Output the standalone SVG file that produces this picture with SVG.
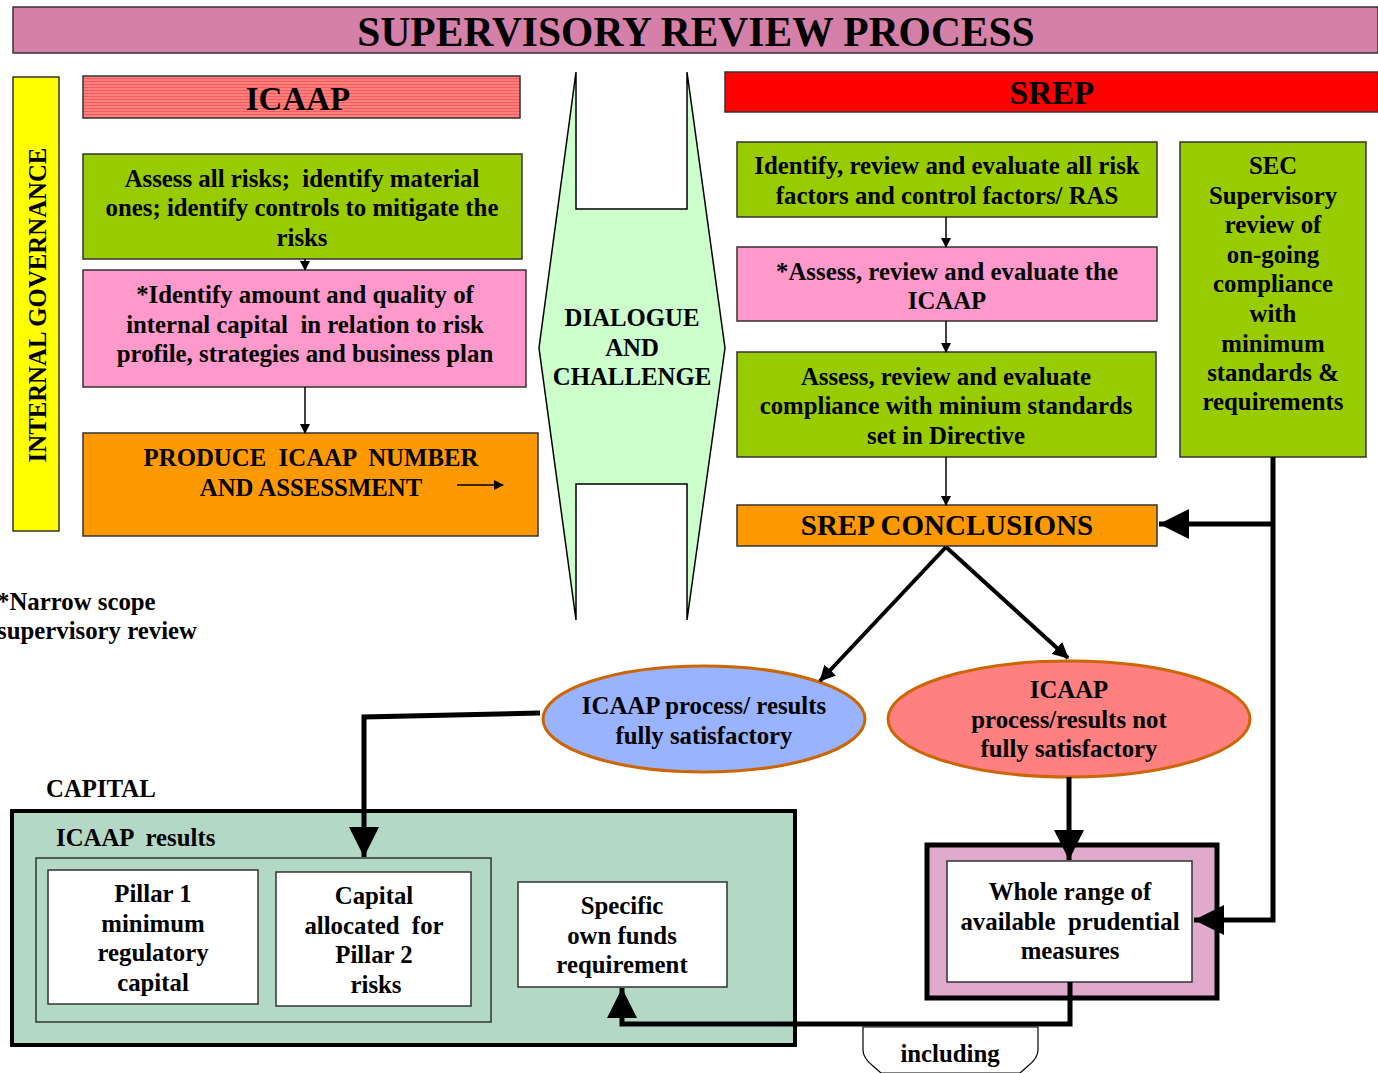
<svg xmlns="http://www.w3.org/2000/svg" width="1378" height="1073" viewBox="0 0 1378 1073" xml:space="preserve">
<style>
.t{font-family:"Liberation Serif","Times New Roman",serif;font-weight:bold;fill:#000;text-anchor:middle;font-size:24.8px;white-space:pre}
.l{text-anchor:start}
.b{stroke:#333;stroke-width:1.5}
.c{fill:none;stroke:#000;stroke-width:5}
.cn{fill:none;stroke:#000;stroke-width:4}
.cs{fill:none;stroke:#000;stroke-width:1.5}
</style>
<defs>
<pattern id="stripes" width="6" height="3" patternUnits="userSpaceOnUse">
<rect width="6" height="3" fill="#FF8080"/>
<rect width="6" height="1" fill="#FF5A5A"/>
</pattern>
<marker id="as" markerWidth="10" markerHeight="10" refX="9" refY="5" orient="auto" markerUnits="userSpaceOnUse">
<path d="M0,0 L10,5 L0,10 Z" fill="#000"/>
</marker>
<marker id="am" markerWidth="16" markerHeight="16" refX="15" refY="8" orient="auto" markerUnits="userSpaceOnUse">
<path d="M0,0 L16,8 L0,16 Z" fill="#000"/>
</marker>
<marker id="ab" markerWidth="32" markerHeight="32" refX="30" refY="16" orient="auto" markerUnits="userSpaceOnUse">
<path d="M0,1 L30,16 L0,31 Z" fill="#000"/>
</marker>
</defs>

<g id="title">
<rect x="13" y="7" width="1365" height="46" fill="#D580A8" class="b"/>
<text class="t" x="696" y="46" style="font-size:41.5px">SUPERVISORY REVIEW PROCESS</text>
</g>

<g id="internal-governance">
<rect x="13" y="77" width="46" height="454" fill="#FFFF00" class="b"/>
<text class="t" transform="translate(46,305) rotate(-90)">INTERNAL GOVERNANCE</text>
</g>

<g id="icaap-header">
<rect x="83" y="76" width="437" height="42" fill="url(#stripes)" class="b"/>
<text class="t" x="298" y="110" style="font-size:33px">ICAAP</text>
</g>

<g id="assess-risks">
<rect x="83" y="154" width="439" height="105" fill="#99CC00" class="b"/>
<text class="t" x="302" y="187">Assess all risks;  identify material</text>
<text class="t" x="302" y="216">ones; identify controls to mitigate the</text>
<text class="t" x="302" y="246">risks</text>
</g>

<g id="identify-capital">
<rect x="83" y="270" width="443" height="117" fill="#FF99CC" class="b"/>
<text class="t" x="305" y="303">*Identify amount and quality of</text>
<text class="t" x="305" y="333">internal capital  in relation to risk</text>
<text class="t" x="305" y="362">profile, strategies and business plan</text>
</g>

<g id="produce-icaap">
<rect x="83" y="433" width="455" height="103" fill="#FF9900" class="b"/>
<text class="t" x="311" y="466">PRODUCE  ICAAP  NUMBER</text>
<text class="t" x="311" y="496">AND ASSESSMENT</text>
<line x1="457" y1="485" x2="503" y2="485" class="cs" marker-end="url(#as)"/>
</g>

<g id="footnote">
<text class="t l" x="-3" y="610">*Narrow scope</text>
<text class="t l" x="-3" y="639">supervisory review</text>
</g>

<g id="dialogue">
<path d="M576,72 L576,209 L687,209 L687,72 L725,348 L687,620 L687,484 L576,484 L576,620 L539,348 Z" fill="#CCFFCC" stroke="#000" stroke-width="1.5"/>
<text class="t" x="632" y="326">DIALOGUE</text>
<text class="t" x="632" y="356">AND</text>
<text class="t" x="632" y="385">CHALLENGE</text>
</g>

<g id="srep-header">
<rect x="725" y="72" width="653" height="40" fill="#FF0000" class="b"/>
<text class="t" x="1052" y="104" style="font-size:33px">SREP</text>
</g>

<g id="srep-identify">
<rect x="737" y="142" width="420" height="75" fill="#99CC00" class="b"/>
<text class="t" x="947" y="174">Identify, review and evaluate all risk</text>
<text class="t" x="947" y="204">factors and control factors/ RAS</text>
</g>

<g id="srep-assess-icaap">
<rect x="737" y="247" width="420" height="74" fill="#FF99CC" class="b"/>
<text class="t" x="947" y="280">*Assess, review and evaluate the</text>
<text class="t" x="947" y="309">ICAAP</text>
</g>

<g id="srep-compliance">
<rect x="737" y="352" width="419" height="105" fill="#99CC00" class="b"/>
<text class="t" x="946" y="385">Assess, review and evaluate</text>
<text class="t" x="946" y="414">compliance with minium standards</text>
<text class="t" x="946" y="444">set in Directive</text>
</g>

<g id="srep-conclusions">
<rect x="737" y="505" width="420" height="41" fill="#FF9900" class="b"/>
<text class="t" x="947" y="535" style="font-size:29px">SREP CONCLUSIONS</text>
</g>

<g id="sec">
<rect x="1180" y="142" width="186" height="315" fill="#99CC00" class="b"/>
<text class="t" x="1273" y="174">SEC</text>
<text class="t" x="1273" y="204">Supervisory</text>
<text class="t" x="1273" y="233">review of</text>
<text class="t" x="1273" y="263">on-going</text>
<text class="t" x="1273" y="292">compliance</text>
<text class="t" x="1273" y="322">with</text>
<text class="t" x="1273" y="352">minimum</text>
<text class="t" x="1273" y="381">standards &amp;</text>
<text class="t" x="1273" y="410">requirements</text>
</g>

<g id="satisfactory">
<ellipse cx="704" cy="719" rx="161" ry="53" fill="#99B3FF" stroke="#CC6600" stroke-width="3"/>
<text class="t" x="704" y="714">ICAAP process/ results</text>
<text class="t" x="704" y="744">fully satisfactory</text>
</g>

<g id="not-satisfactory">
<ellipse cx="1069" cy="719" rx="181" ry="58" fill="#FF8080" stroke="#CC6600" stroke-width="3"/>
<text class="t" x="1069" y="698">ICAAP</text>
<text class="t" x="1069" y="728">process/results not</text>
<text class="t" x="1069" y="757">fully satisfactory</text>
</g>

<g id="capital">
<text class="t l" x="46" y="797">CAPITAL</text>
<rect x="12" y="811" width="783" height="234" fill="#B3D9C6" stroke="#000" stroke-width="4"/>
<text class="t l" x="56" y="846">ICAAP  results</text>
<rect x="36" y="858" width="455" height="164" fill="#B3D9C6" class="b"/>
</g>

<g id="pillar1">
<rect x="48" y="870" width="210" height="134" fill="#FFFFFF" class="b"/>
<text class="t" x="153" y="902">Pillar 1</text>
<text class="t" x="153" y="932">minimum</text>
<text class="t" x="153" y="961">regulatory</text>
<text class="t" x="153" y="991">capital</text>
</g>

<g id="pillar2">
<rect x="276" y="872" width="195" height="134" fill="#FFFFFF" class="b"/>
<text class="t" x="374" y="904">Capital</text>
<text class="t" x="374" y="934">allocated  for</text>
<text class="t" x="374" y="963">Pillar 2</text>
<text class="t" x="376" y="993">risks</text>
</g>

<g id="specific-own-funds">
<rect x="518" y="882" width="209" height="105" fill="#FFFFFF" class="b"/>
<text class="t" x="622" y="914">Specific</text>
<text class="t" x="622" y="944">own funds</text>
<text class="t" x="622" y="973">requirement</text>
</g>

<g id="prudential-measures">
<rect x="927" y="845" width="290" height="153" fill="#E0AACC" stroke="#000" stroke-width="5"/>
<rect x="947" y="861" width="245" height="121" fill="#FFFFFF" class="b"/>
<text class="t" x="1070" y="900">Whole range of</text>
<text class="t" x="1070" y="930">available  prudential</text>
<text class="t" x="1070" y="959">measures</text>
</g>

<g id="including">
<path d="M863,1027 L1038,1027 L1038,1050 Q1038,1058 1028,1066 L1020,1073 L881,1073 L873,1066 Q863,1058 863,1050 Z" fill="#FFFFFF" stroke="#000" stroke-width="1.2"/>
<text class="t" x="950" y="1062">including</text>
</g>

<g id="connectors">
<line x1="305" y1="259" x2="305" y2="270" class="cs" marker-end="url(#as)"/>
<line x1="305" y1="387" x2="305" y2="433" class="cs" marker-end="url(#as)"/>
<line x1="946" y1="217" x2="946" y2="247" class="cs" marker-end="url(#as)"/>
<line x1="946" y1="321" x2="946" y2="352" class="cs" marker-end="url(#as)"/>
<line x1="946" y1="457" x2="946" y2="505" class="cs" marker-end="url(#as)"/>
<line x1="946" y1="547" x2="820" y2="681" class="cn" marker-end="url(#am)"/>
<line x1="946" y1="547" x2="1068" y2="658" class="cn" marker-end="url(#am)"/>
<polyline points="1273,457 1273,920 1194,920" class="c" marker-end="url(#ab)"/>
<line x1="1273" y1="524" x2="1159" y2="524" class="c" marker-end="url(#ab)"/>
<polyline points="540,713 364,717 364,857" class="c" marker-end="url(#ab)"/>
<line x1="1069" y1="777" x2="1069" y2="860" class="c" marker-end="url(#ab)"/>
<polyline points="1070,982 1070,1024 622,1024 622,988" class="c" marker-end="url(#ab)"/>
</g>
</svg>
